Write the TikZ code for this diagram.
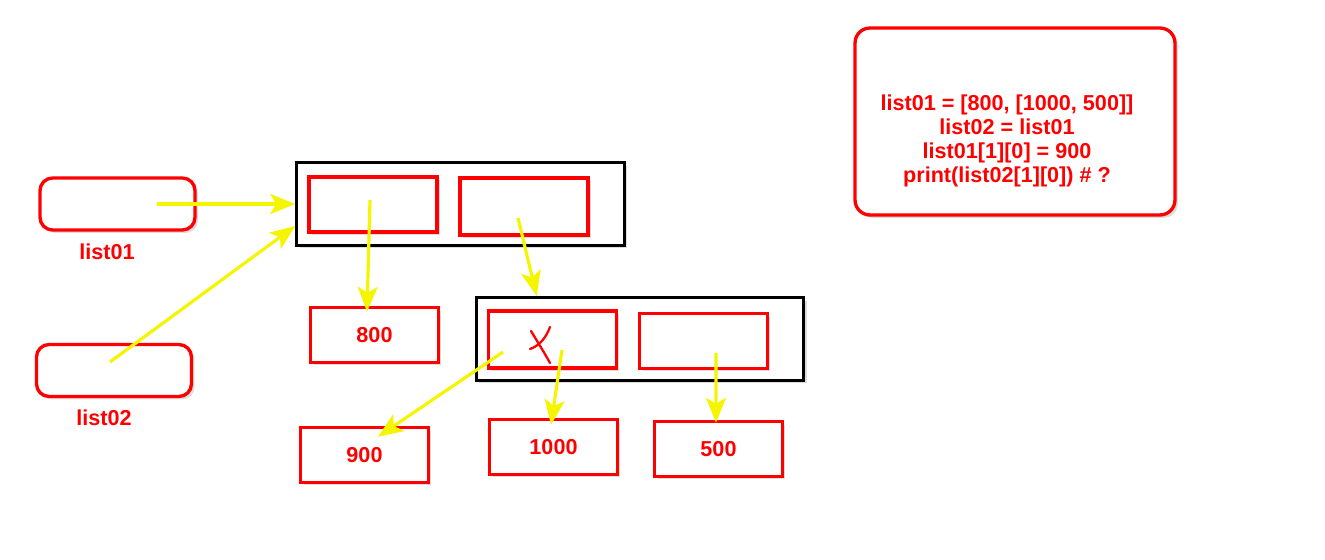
\documentclass[tikz,border=0pt]{standalone}
\usepackage{fontspec}
\setmainfont{Liberation Sans}
\usepackage{xcolor}
\usetikzlibrary{arrows.meta,positioning,shadows}
\definecolor{boxred}{HTML}{FF0000}
\definecolor{ptryellow}{HTML}{F5F500}

\begin{document}
\begin{tikzpicture}[
  x=0.02cm, y=-0.02cm,
  font=\fontsize{12.3}{13.8}\selectfont\bfseries,
  shade/.style={drop shadow={shadow xshift=0.06cm,shadow yshift=-0.06cm,opacity=0.3,fill=black!45}},
  var/.style={rectangle,draw=boxred,line width=1.9pt,rounded corners=0.25cm,fill=white,shade,minimum width=3.1cm,minimum height=1.04cm},
  cell/.style={rectangle,draw=boxred,line width=2pt,fill=white,shade,minimum width=2.56cm,minimum height=1.1cm,text=boxred},
  holder/.style={rectangle,draw=black,line width=1.8pt,fill=white,shade,minimum width=6.55cm,minimum height=1.66cm},
  lbl/.style={text=boxred},
  ptr/.style={-{Stealth[length=5mm,width=4mm,inset=1.2mm]},draw=ptryellow,line width=1.8pt}]
\useasboundingbox (0,0) rectangle (1325,560);
% variables
\node[var] (l01) at (117.5,204) {};
\node[lbl] (n01) at (107,252) {list01};
\node[var] (l02) at (114,370.5) {};
\node[lbl] (n02) at (104,418) {list02};
% outer list
\node[holder] (outA) at (460.5,204) {};
\node[cell] (a1) at (373,204.5) {};
\node[cell,minimum height=1.14cm] (a2) at (524,206.5) {};
\node[cell] (v800) at (374.5,335) {\raisebox{-2pt}{800}};
% inner list
\node[holder] (outB) at (640,339) {};
\node[cell,minimum height=1.14cm] (b1) at (552.5,339.5) {};
\node[cell] (b2) at (703.5,341) {};
\node[cell] (v900) at (364.5,455) {\raisebox{-3pt}{900}};
\node[cell] (v1000) at (553.5,447) {\raisebox{-1pt}{1000}};
\node[cell] (v500) at (718.5,449) {\raisebox{-4pt}{500}};
% crossed out
\draw[boxred,line width=1.3pt,line cap=round] (550,327) .. controls (546,338) and (539,346) .. (530,349);
\draw[boxred,line width=1.3pt,line cap=round] (531,331) .. controls (537,341) and (544,352) .. (550,363);
% code
\node[var,minimum width=6.4cm,minimum height=3.74cm,rounded corners=0.3cm] (code) at (1015,121.5) {};
\node[lbl,align=center] (src) at (1007,141) {list01 = [800, [1000, 500]]\\list02 = list01\\list01[1][0] = 900\\print(list02[1][0]) \# ?};
% pointers
\draw[ptr] ([xshift=0.79cm]l01.center) -- (outA.west);
\draw[ptr] ([xshift=-0.08cm,yshift=0.17cm]l02.center) -- ([yshift=-0.44cm]outA.west);
\draw[ptr] ([xshift=-0.06cm,yshift=0.09cm]a1.center) -- ([xshift=-0.15cm,yshift=-0.12cm]v800.north);
\draw[ptr] ([xshift=-0.12cm,yshift=-0.23cm]a2.center) -- ([xshift=1.24cm]outB.north west);
\draw[ptr] ([xshift=0.19cm,yshift=-0.21cm]b1.center) -- ([xshift=-0.05cm,yshift=-0.14cm]v1000.north);
\draw[ptr] ([xshift=-0.99cm,yshift=-0.25cm]b1.center) -- ([xshift=0.27cm,yshift=-0.22cm]v900.north);
\draw[ptr] ([xshift=0.25cm,yshift=-0.24cm]b2.center) -- ([xshift=-0.05cm,yshift=-0.06cm]v500.north);
\end{tikzpicture}
\end{document}
